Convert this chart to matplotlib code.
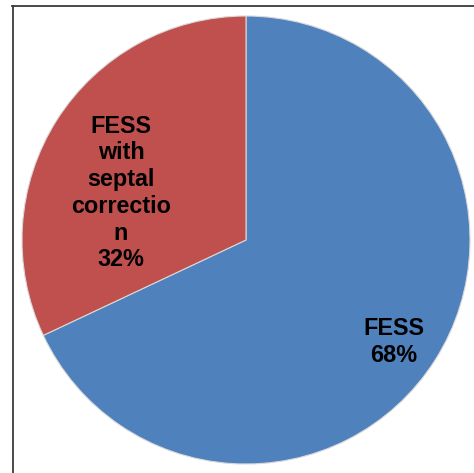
import matplotlib
matplotlib.use("Agg")
import matplotlib.pyplot as plt
from matplotlib.lines import Line2D

labels = ["FESS\n68%", "FESS\nwith\nseptal\ncorrectio\nn\n32%"]
values = [68, 32]
colors = ["#4F81BD", "#C0504D"]

W, H = 474, 473
fig = plt.figure(figsize=(W / 100, H / 100), dpi=100)
fig.patch.set_facecolor("white")

# frame lines (top and left)
fig.add_artist(Line2D([12 / W, 1], [1 - 6.5 / H, 1 - 6.5 / H], transform=fig.transFigure,
                      color="#3a3a3a", lw=1.3))
fig.add_artist(Line2D([12.5 / W, 12.5 / W], [0, 1 - 6 / H], transform=fig.transFigure,
                      color="#3a3a3a", lw=1.3))

cx, cy, r = 246, 240, 224
ax = fig.add_axes([(cx - r) / W, 1 - (cy + r) / H, 2 * r / W, 2 * r / H])
wedges, texts = ax.pie(values, colors=colors, startangle=90, counterclock=False,
                       wedgeprops=dict(linewidth=0.8, edgecolor="#d8d8d8"),
                       radius=1.0)
ax.set_xlim(-1, 1)
ax.set_ylim(-1, 1)
ax.set_aspect("auto")
ax.axis("off")

def to_data(px, py):
    return ((px - cx) / r, -(py - cy) / r)

font = dict(family=["Liberation Sans", "DejaVu Sans"], fontweight="bold", fontsize=16.8,
            color="black", ha="center", va="center", linespacing=1.21)
x, y = to_data(394, 342)
ax.text(x, y, labels[0], **font)
x, y = to_data(121, 193)
ax.text(x, y, labels[1], **font)

fig.savefig("out.png", dpi=100)
